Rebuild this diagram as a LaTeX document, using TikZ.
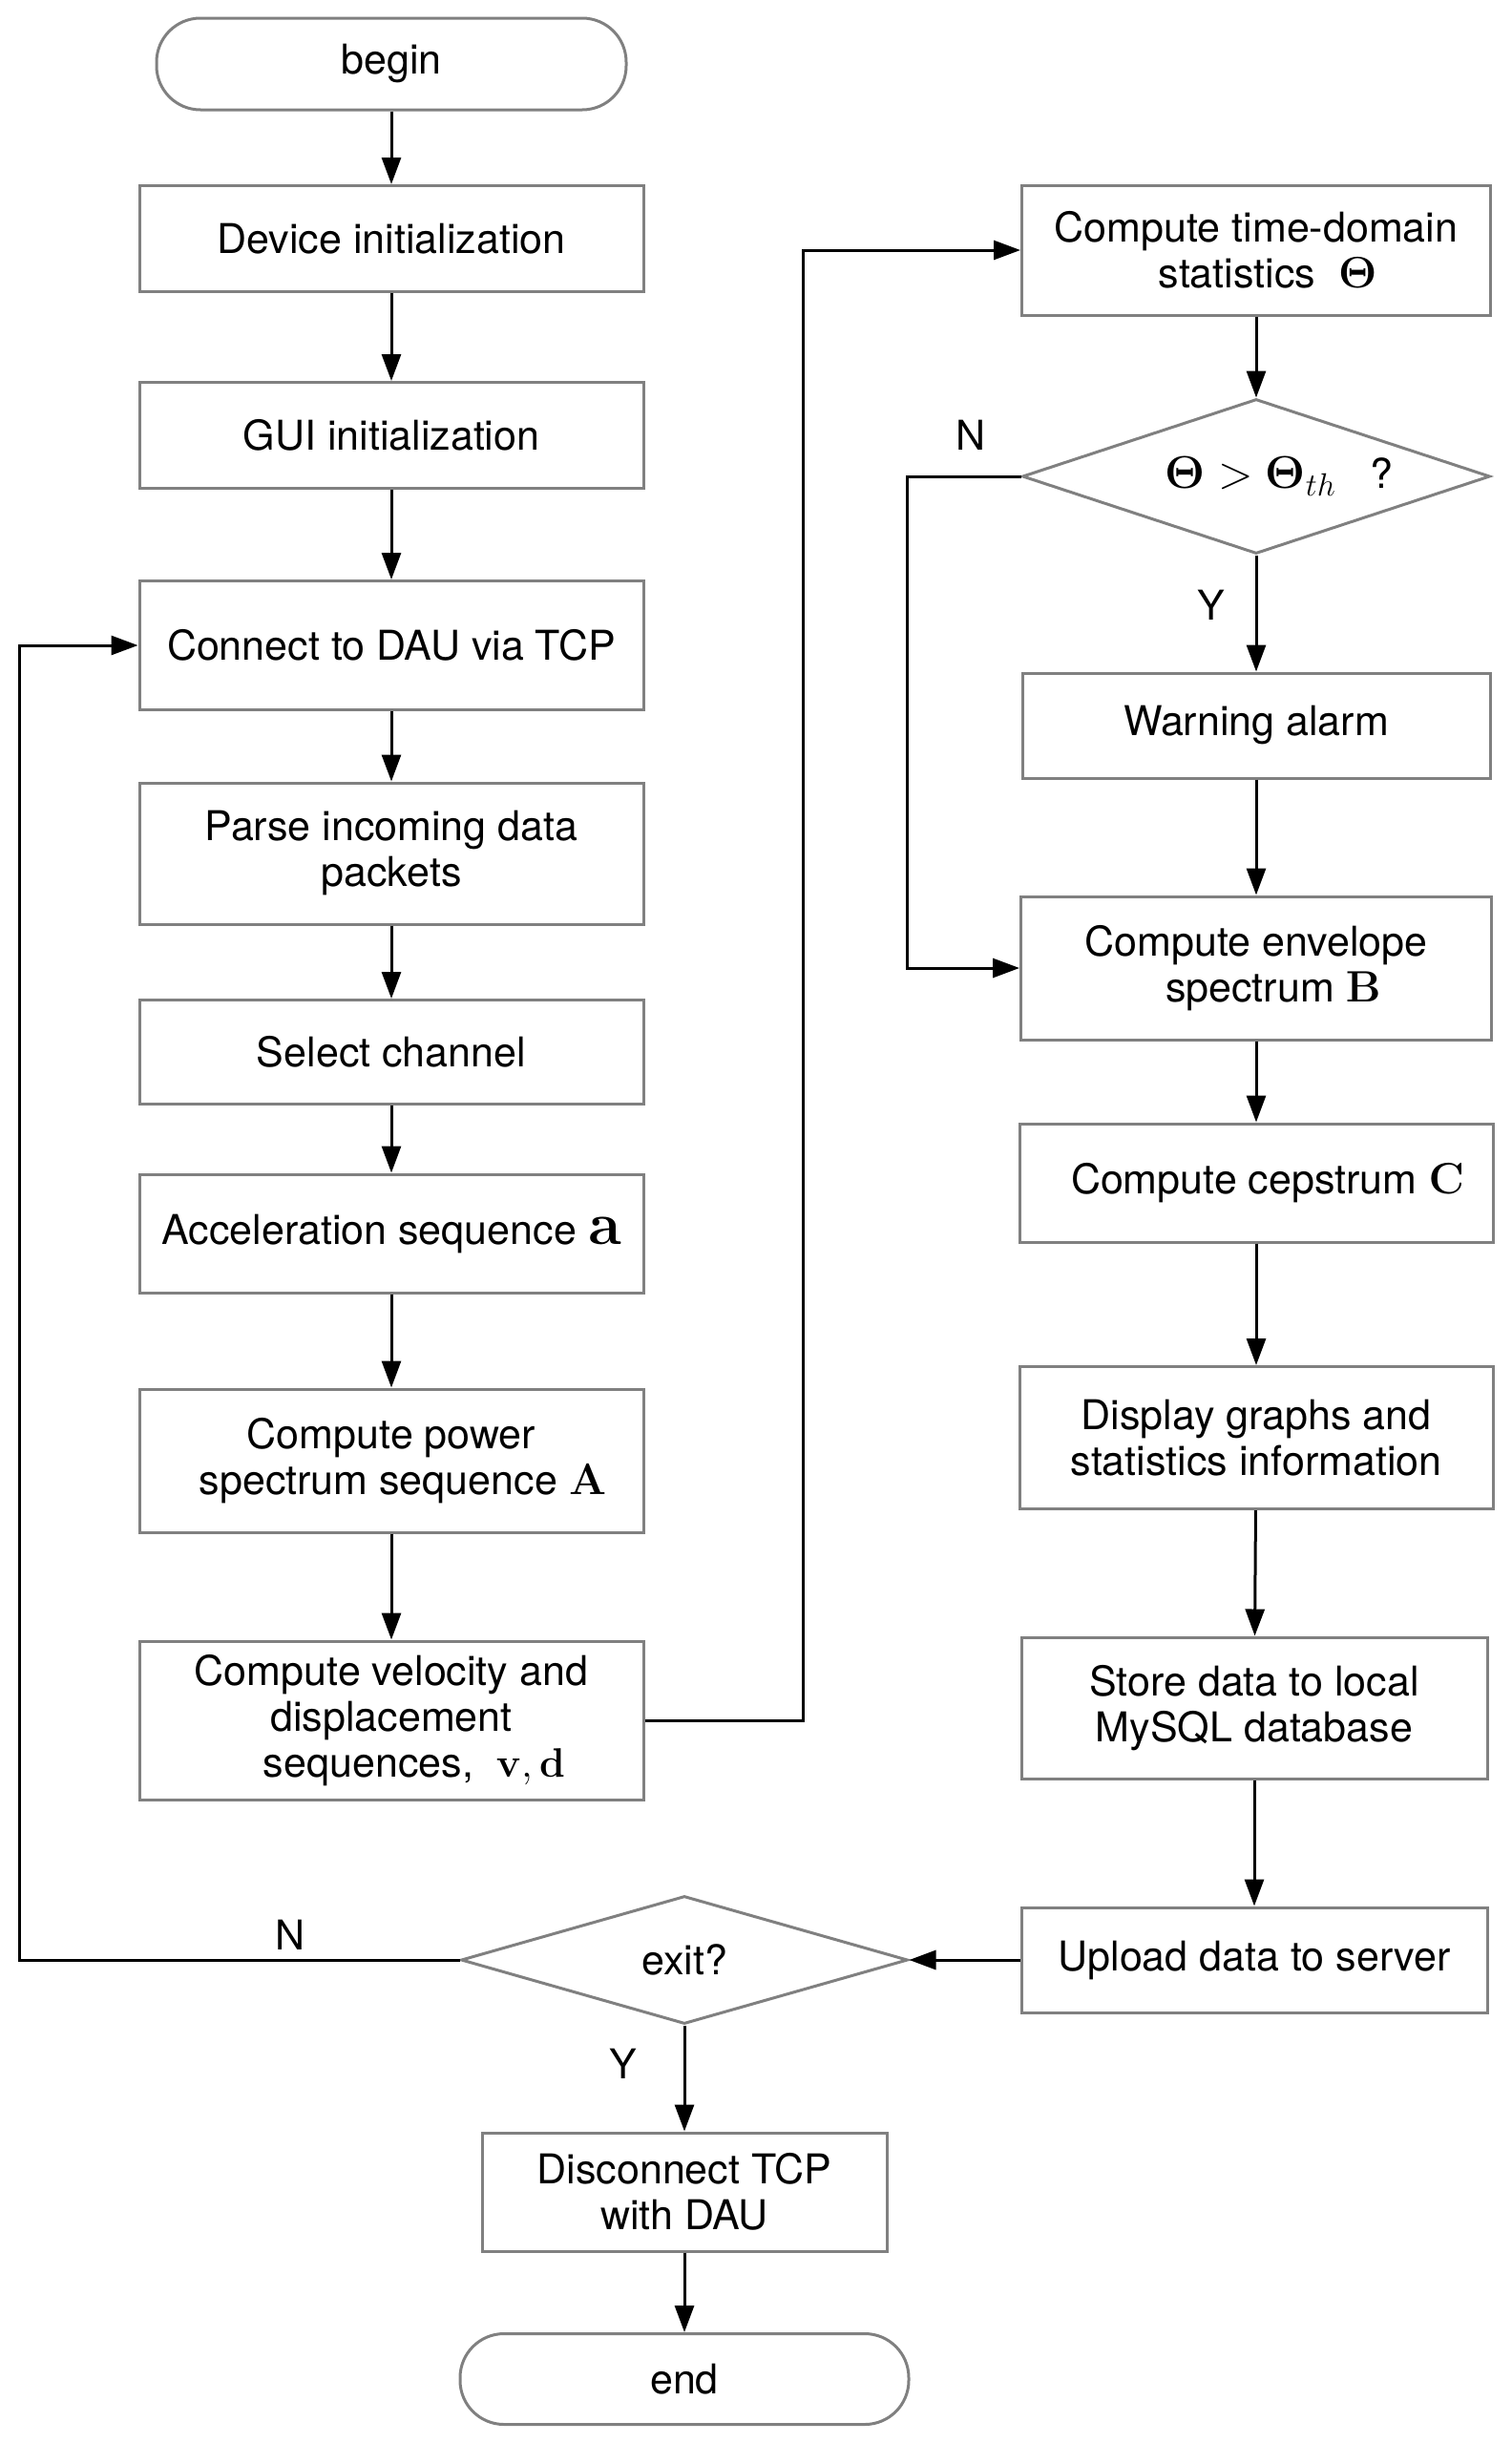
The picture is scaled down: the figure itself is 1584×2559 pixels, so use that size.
\RequirePackage{fix-cm}
\documentclass[tikz,border=0pt]{standalone}
\usepackage{amsmath}
\usepackage{amssymb}
\usepackage[no-math]{fontspec}
\setmainfont{TeX Gyre Heros}
\usepackage{tikz}
\usetikzlibrary{arrows.meta,shapes,positioning}
\definecolor{boxgray}{RGB}{128,128,128}
% math set a little larger than the text, as in the drawing
\newcommand{\mathsized}[2]{{\fontsize{#1}{#1}\selectfont$#2$}}

\begin{document}
\begin{tikzpicture}[x=1pt, y=-1pt,
  font=\fontsize{43}{48}\selectfont,
  procnode/.style={draw=boxgray, line width=3pt, rectangle, inner sep=0pt, align=center},
  decnode/.style={draw=boxgray, line width=3pt, diamond, aspect=3, inner sep=0pt, align=center},
  termnode/.style={draw=boxgray, line width=3pt, rectangle, rounded corners=46pt, inner sep=0pt},
  flow/.style={draw, line width=3pt, -{Triangle[length=28pt,width=20pt]}}
  ]
  \useasboundingbox (0,0) rectangle (1584,2559);

  % Nodes, left column
  \node[termnode, minimum width=492pt, minimum height=96pt] (begin) at (410,67) {begin};
  \node[procnode, minimum width=528pt, minimum height=111pt] (devinit) at (410,250) {Device initialization};
  \node[procnode, minimum width=528pt, minimum height=111pt] (guiinit) at (410,456) {GUI initialization};
  \node[procnode, minimum width=528pt, minimum height=135pt] (connect) at (410,676) {Connect to DAU via TCP};
  \node[procnode, minimum width=528pt, minimum height=148pt] (parse) at (410,894) {Parse incoming data\\ packets};
  \node[procnode, minimum width=528pt, minimum height=109pt] (channel) at (410,1102) {Select channel};
  \node[procnode, minimum width=528pt, minimum height=124pt] (accel) at (410,1292) {Acceleration sequence \mathsized{63}{\mathbf{a}}};
  \node[procnode, minimum width=528pt, minimum height=150pt] (power) at (410,1530) {Compute power\\ \ \ spectrum sequence \mathsized{46}{\mathbf{A}}};
  \node[procnode, minimum width=528pt, minimum height=166pt] (veldisp) at (410,1802) {Compute velocity and\\ displacement\\ \ \ \ \ sequences,~ \mathsized{43}{\mathbf{v},\mathbf{d}}};

  % Nodes, right column
  \node[procnode, minimum width=491pt, minimum height=136pt] (timedom) at (1316,262) {Compute time-domain\\ \ \ statistics~ \mathsized{46}{\boldsymbol{\Theta}}};
  \node[decnode, minimum width=490pt, minimum height=162pt] (thresh) at (1316,499) {\ \ \ \ \mathsized{48}{\boldsymbol{\Theta} > \boldsymbol{\Theta}_{th}} \ \ ?};
  \node[procnode, minimum width=490pt, minimum height=110pt] (warning) at (1316,760) {Warning alarm};
  \node[procnode, minimum width=493pt, minimum height=150pt] (envelope) at (1316,1014) {Compute envelope\\ \ \ \ spectrum \mathsized{46}{\mathbf{B}}};
  \node[procnode, minimum width=496pt, minimum height=124pt] (cepstrum) at (1316,1239) {\ \ Compute cepstrum \mathsized{46}{\mathbf{C}}};
  \node[procnode, minimum width=496pt, minimum height=149pt] (display) at (1316,1506) {Display graphs and\\ statistics information};
  \node[procnode, minimum width=488pt, minimum height=148pt] (store) at (1314,1789) {Store data to local\\ MySQL database};
  \node[procnode, minimum width=488pt, minimum height=110pt] (upload) at (1314,2053) {Upload data to server};

  % Nodes, bottom
  \node[decnode, minimum width=468pt, minimum height=134pt] (exitq) at (717,2053) {exit?};
  \node[procnode, minimum width=424pt, minimum height=124pt] (disconnect) at (717,2296) {Disconnect TCP\\ with DAU};
  \node[termnode, minimum width=470pt, minimum height=95pt] (end) at (717,2492) {end};

  % Labels
  \node (threshN) at (1017,456) {N};
  \node (threshY) at (1269,634) {Y};
  \node (exitN) at (304,2027) {N};
  \node (exitY) at (653,2162) {Y};

  % Connectors
  \draw[flow] (begin) -- (devinit);
  \draw[flow] (devinit) -- (guiinit);
  \draw[flow] (guiinit) -- (connect);
  \draw[flow] (connect) -- (parse);
  \draw[flow] (parse) -- (channel);
  \draw[flow] (channel) -- (accel);
  \draw[flow] (accel) -- (power);
  \draw[flow] (power) -- (veldisp);
  \draw[flow] (veldisp.east) -- ++(166,0) |- (timedom.west);
  \draw[flow] (timedom) -- (thresh);
  \draw[flow] (thresh) -- (warning);
  \draw[flow] (thresh.west) -- ++(-119,0) |- (envelope.west);
  \draw[flow] (warning) -- (envelope);
  \draw[flow] (envelope) -- (cepstrum);
  \draw[flow] (cepstrum) -- (display);
  \draw[flow] (display) -- (store);
  \draw[flow] (store) -- (upload);
  \draw[flow] (upload.west) -- (exitq.east);
  \draw[flow] (exitq.west) -- ++(-461,0) |- (connect.west);
  \draw[flow] (exitq) -- (disconnect);
  \draw[flow] (disconnect) -- (end);

\end{tikzpicture}
\end{document}
